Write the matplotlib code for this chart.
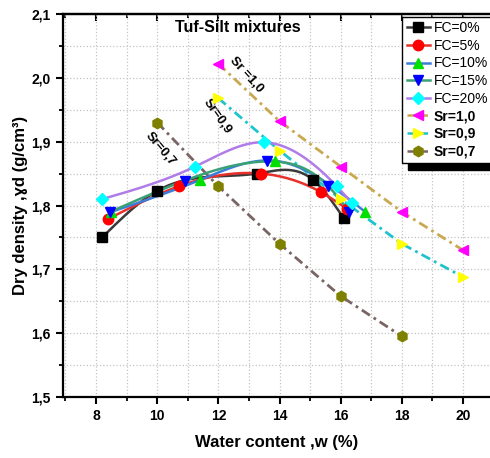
import numpy as np
import matplotlib
matplotlib.use('Agg')
import matplotlib.pyplot as plt
from matplotlib.ticker import MultipleLocator, FuncFormatter
from matplotlib.lines import Line2D

plt.rcParams['font.family'] = ['Liberation Sans', 'DejaVu Sans']

# ---- data ----
fc0_w = [8.2, 10.0, 13.25, 15.1, 16.1]
fc0_d = [1.75, 1.823, 1.85, 1.84, 1.78]
fc5_w = [8.4, 10.7, 13.4, 15.35, 16.2]
fc5_d = [1.779, 1.83, 1.85, 1.821, 1.795]
fc10_w = [8.5, 11.4, 13.85, 16.8]
fc10_d = [1.79, 1.84, 1.87, 1.79]
fc15_w = [8.46, 10.9, 13.6, 15.6, 16.28]
fc15_d = [1.79, 1.839, 1.869, 1.83, 1.79]
fc20_w = [8.2, 11.24, 13.5, 15.87, 16.36]
fc20_d = [1.81, 1.861, 1.899, 1.83, 1.804]
sr_w = [12, 14, 16, 18, 20]
sr10_d = [2.022, 1.932, 1.861, 1.79, 1.73]
sr09_d = [1.968, 1.886, 1.81, 1.74, 1.688]
sr07_w = [10, 12, 14, 16, 18]
sr07_d = [1.93, 1.83, 1.74, 1.658, 1.595]

labels = ['FC=0%', 'FC=5%', 'FC=10%', 'FC=15%', 'FC=20%', 'Sr=1,0', 'Sr=0,9', 'Sr=0,7']


def smooth(x, y, n=200):
    x = np.asarray(x, float)
    y = np.asarray(y, float)
    m = len(x)
    h = np.diff(x)
    A = np.zeros((m, m))
    b = np.zeros(m)
    A[0, 0] = A[-1, -1] = 1
    for i in range(1, m - 1):
        A[i, i - 1] = h[i - 1]
        A[i, i] = 2 * (h[i - 1] + h[i])
        A[i, i + 1] = h[i]
        b[i] = 3 * ((y[i + 1] - y[i]) / h[i] - (y[i] - y[i - 1]) / h[i - 1])
    c = np.linalg.solve(A, b)
    xs = np.linspace(x[0], x[-1], n)
    idx = np.clip(np.searchsorted(x, xs) - 1, 0, m - 2)
    dx = xs - x[idx]
    bb = (y[1:] - y[:-1]) / h - h * (2 * c[:-1] + c[1:]) / 3
    d = (c[1:] - c[:-1]) / (3 * h)
    ys = y[idx] + bb[idx] * dx + c[idx] * dx ** 2 + d[idx] * dx ** 3
    return xs, ys


fig = plt.figure(figsize=(4.9, 4.58), dpi=100)
ax = fig.add_axes([63 / 490, 1 - 397 / 458, 427 / 490, 383 / 458])

dashdot = (0, (3.5, 1.6, 1, 1.6))

# Sr lines
sr_sets = [
    (sr_w, sr10_d, '#c8a850', '<', '#ff00ff'),
    (sr_w, sr09_d, '#1ec3cc', '>', '#ffff00'),
    (sr07_w, sr07_d, '#7a6464', 'h', '#808000'),
]
sr_handles = []
for w, d, lc, mk, mc in sr_sets:
    ax.plot(w, d, color=lc, lw=2, linestyle=dashdot, zorder=2)
    ax.plot(w, d, linestyle='none', marker=mk, ms=7.5, mfc=mc, mec=mc, zorder=4)
    sr_handles.append(Line2D([], [], color=lc, lw=1.8, linestyle=(0, (3.5, 1.2)), marker=mk,
                             ms=7.5, mfc=mc, mec=mc))

fc_sets = [
    (fc0_w, fc0_d, '#3a3a3a', 's', '#000000'),
    (fc5_w, fc5_d, '#e8302a', 'o', '#ff0000'),
    (fc10_w, fc10_d, '#3b7dd8', '^', '#00e000'),
    (fc15_w, fc15_d, '#3aa077', 'v', '#0000ff'),
    (fc20_w, fc20_d, '#b07de8', 'D', '#00ffff'),
]
fc_handles = []
for w, d, lc, mk, mc in fc_sets:
    xs, ys = smooth(w, d)
    ax.plot(xs, ys, color=lc, lw=1.8, zorder=3)
    ms = 6.5 if mk == 'D' else 7.5
    ax.plot(w, d, linestyle='none', marker=mk, ms=ms, mfc=mc, mec=mc, zorder=5)
    fc_handles.append(Line2D([], [], color=lc, lw=1.8, marker=mk, ms=ms, mfc=mc, mec=mc))

handles = fc_handles + sr_handles

ax.set_xlim(6.92, 20.88)
ax.set_ylim(1.5, 2.1)
ax.xaxis.set_major_locator(MultipleLocator(2))
ax.xaxis.set_minor_locator(MultipleLocator(1))
ax.yaxis.set_major_locator(MultipleLocator(0.1))
ax.yaxis.set_minor_locator(MultipleLocator(0.05))
ax.yaxis.set_major_formatter(FuncFormatter(lambda v, p: f'{v:.1f}'.replace('.', ',')))
ax.xaxis.set_major_formatter(FuncFormatter(lambda v, p: f'{v:.0f}'))

ax.grid(which='both', color='#c4c4c4', linestyle=':', linewidth=0.9, zorder=0)
ax.set_axisbelow(True)

for s in ['left', 'bottom', 'top']:
    ax.spines[s].set_linewidth(1.6)
ax.spines['right'].set_visible(False)

ax.tick_params(which='major', direction='out', length=5, width=1.5, labelsize=10, pad=4)
ax.tick_params(which='minor', direction='out', length=3, width=1.3)
for lab in ax.get_xticklabels() + ax.get_yticklabels():
    lab.set_fontweight('bold')

sec = ax.secondary_xaxis('top')
sec.xaxis.set_major_locator(MultipleLocator(2))
sec.xaxis.set_minor_locator(MultipleLocator(1))
sec.tick_params(which='major', direction='in', length=5, width=1.5, labeltop=False)
sec.tick_params(which='minor', direction='in', length=3, width=1.3)
sec.spines['top'].set_linewidth(1.6)

ax.set_xlabel('Water content ,w (%)', fontsize=12, fontweight='bold', labelpad=8)
ax.set_ylabel('Dry density ,ɣd (g/cm³)', fontsize=12, fontweight='bold', labelpad=2)

ax.text(0.41, 0.965, 'Tuf-Silt mixtures', transform=ax.transAxes, fontsize=11.5,
        fontweight='bold', ha='center', va='center')

ax.text(12.9, 2.005, 'Sr =1,0', rotation=-48, fontsize=9.5, fontweight='bold',
        ha='center', va='center', rotation_mode='anchor')
ax.text(11.95, 1.94, 'Sr=0,9', rotation=-55, fontsize=9.5, fontweight='bold',
        ha='center', va='center', rotation_mode='anchor')
ax.text(10.1, 1.888, 'Sr=0,7', rotation=-50, fontsize=9.5, fontweight='bold',
        ha='center', va='center', rotation_mode='anchor')

leg = ax.legend(handles, labels, loc='upper left', bbox_to_anchor=(0.795, 0.992),
                fontsize=10, frameon=True, fancybox=False, edgecolor='black',
                framealpha=1, borderpad=0.3, labelspacing=0.26, handlelength=1.7,
                handletextpad=0.25, borderaxespad=0,
                shadow={'ox': 4, 'oy': -5, 'color': 'black', 'alpha': 1})
leg.get_frame().set_linewidth(1.0)
for t in leg.get_texts()[5:]:
    t.set_fontweight('bold')

fig.savefig('out.png', dpi=100)
